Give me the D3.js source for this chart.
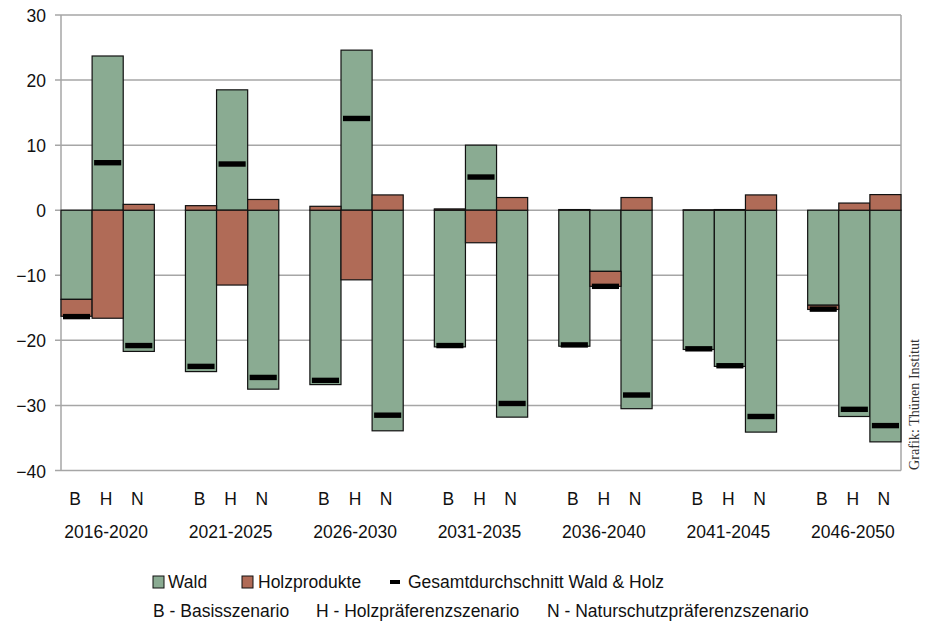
<!DOCTYPE html>
<html>
<head>
<meta charset="utf-8">
<script src="https://cdn.jsdelivr.net/npm/d3@7/dist/d3.min.js"></script>
<style>
  html, body { margin: 0; padding: 0; background: #fff; }
  svg { display: block; }
  .lbl { font-family: "Liberation Sans", Arial, sans-serif; font-size: 17.5px; fill: #111; }
</style>
</head>
<body>
<svg id="chart" width="930" height="623"></svg>
<script>
const periods = ["2016-2020", "2021-2025", "2026-2030", "2031-2035", "2036-2040", "2041-2045", "2046-2050"];
const scenarios = ["B", "H", "N"];
// Wald values per period, order B, H, N
const wald = [
  [-13.7, 23.7, -21.7],
  [-24.8, 18.5, -27.5],
  [-26.8, 24.6, -33.9],
  [-21.0, 10.0, -31.8],
  [-20.9, -9.4, -30.5],
  [-21.4, -24.0, -34.1],
  [-14.6, -31.7, -35.6]
];
// Holzprodukte values per period, order B, H, N
const holz = [
  [-2.6, -16.6, 0.9],
  [0.7, -11.5, 1.65],
  [0.6, -10.7, 2.35],
  [0.2, -5.0, 1.95],
  [0.1, -2.3, 1.95],
  [0.05, 0.1, 2.35],
  [-0.65, 1.1, 2.4]
];
// Gesamtdurchschnitt Wald & Holz
const gesamt = [
  [-16.35, 7.3, -20.8],
  [-24.0, 7.1, -25.7],
  [-26.15, 14.1, -31.5],
  [-20.8, 5.1, -29.7],
  [-20.7, -11.7, -28.4],
  [-21.3, -23.9, -31.7],
  [-15.2, -30.6, -33.1]
];
const yTicks = [30, 20, 10, 0, -10, -20, -30, -40];
const seriesNames = ["Wald", "Holzprodukte"];
const legendMarker = "Gesamtdurchschnitt Wald & Holz";
const scenarioNames = ["B - Basisszenario", "H - Holzpräferenzszenario", "N - Naturschutzpräferenzszenario"];
const credit = "Grafik: Thünen Institut";

const colors = { "Wald": "#8aab92", "Holzprodukte": "#b06b57" };

(function () {
const svg = d3.select("#chart");
const pL = 61, pR = 901, pT = 15, pB = 470.5;

const y = d3.scaleLinear().domain([-40, 30]).range([pB, pT]);
const x0 = d3.scaleBand().domain(periods).range([pL, pR]).paddingInner(0.25).paddingOuter(0);
const x1 = d3.scaleBand().domain(scenarios).range([0, x0.bandwidth()]);

const rows = [];
periods.forEach((p, i) => scenarios.forEach((s, j) => {
  rows.push({ period: p, scen: s, Wald: wald[i][j], Holzprodukte: holz[i][j], total: gesamt[i][j] });
}));
const stacked = d3.stack().keys(seriesNames).offset(d3.stackOffsetDiverging)(rows);

const grid = svg.append("g");
grid.selectAll("line").data(yTicks).join("line")
  .attr("x1", pL - 6).attr("x2", pR)
  .attr("y1", d => y(d)).attr("y2", d => y(d))
  .attr("stroke", "#a6a6a6").attr("stroke-width", 1.5);
grid.append("line").attr("x1", pL).attr("x2", pL).attr("y1", pT).attr("y2", pB)
  .attr("stroke", "#a6a6a6").attr("stroke-width", 1.5);
grid.append("line").attr("x1", pR).attr("x2", pR).attr("y1", pT).attr("y2", pB)
  .attr("stroke", "#a6a6a6").attr("stroke-width", 1.5);

svg.append("g").selectAll("text").data(yTicks).join("text")
  .attr("class", "lbl")
  .attr("x", 46).attr("y", d => y(d) + 7)
  .attr("text-anchor", "end")
  .text(d => d < 0 ? "\u2212" + Math.abs(d) : String(d));

const barsG = svg.append("g");
stacked.forEach(layer => {
  barsG.append("g").selectAll("rect").data(layer).join("rect")
    .attr("x", d => x0(d.data.period) + x1(d.data.scen))
    .attr("width", x1.bandwidth())
    .attr("y", d => y(Math.max(d[0], d[1])))
    .attr("height", d => Math.abs(y(d[0]) - y(d[1])))
    .attr("fill", colors[layer.key])
    .attr("stroke", "#111").attr("stroke-width", 1.2);
});

svg.append("g").selectAll("rect").data(rows).join("rect")
  .attr("x", d => x0(d.period) + x1(d.scen) + 2)
  .attr("width", x1.bandwidth() - 4)
  .attr("y", d => y(d.total) - 2.7)
  .attr("height", 5.4)
  .attr("fill", "#000");

svg.append("g").selectAll("text").data(rows).join("text")
  .attr("class", "lbl")
  .attr("x", d => x0(d.period) + x1(d.scen) + x1.bandwidth() / 2 - 1.5)
  .attr("y", 505)
  .attr("text-anchor", "middle")
  .text(d => d.scen);
svg.append("g").selectAll("text").data(periods).join("text")
  .attr("class", "lbl")
  .attr("x", d => x0(d) + x0.bandwidth() / 2 - 1.5)
  .attr("y", 538)
  .attr("text-anchor", "middle")
  .text(d => d);

const lg = svg.append("g");
lg.append("rect").attr("x", 153).attr("y", 576).attr("width", 11).attr("height", 12)
  .attr("fill", colors["Wald"]).attr("stroke", "#111").attr("stroke-width", 1);
lg.append("text").attr("class", "lbl").attr("x", 168).attr("y", 588).text(seriesNames[0]);
lg.append("rect").attr("x", 242).attr("y", 576).attr("width", 11).attr("height", 12)
  .attr("fill", colors["Holzprodukte"]).attr("stroke", "#111").attr("stroke-width", 1);
lg.append("text").attr("class", "lbl").attr("x", 258).attr("y", 588).text(seriesNames[1]);
lg.append("rect").attr("x", 390).attr("y", 580).attr("width", 10).attr("height", 4).attr("fill", "#000");
lg.append("text").attr("class", "lbl").attr("x", 408).attr("y", 588).text(legendMarker);

const row2x = [153, 316, 547];
lg.selectAll("text.sc").data(scenarioNames).join("text")
  .attr("class", "lbl sc")
  .attr("x", (d, i) => row2x[i]).attr("y", 616.5)
  .text(d => d);

svg.append("text")
  .attr("transform", "translate(919,470) rotate(-90)")
  .attr("font-family", "Liberation Serif, DejaVu Serif, serif")
  .attr("font-size", 14)
  .attr("fill", "#333")
  .attr("textLength", 131)
  .attr("lengthAdjust", "spacingAndGlyphs")
  .text(credit);
})();
</script>
</body>
</html>
